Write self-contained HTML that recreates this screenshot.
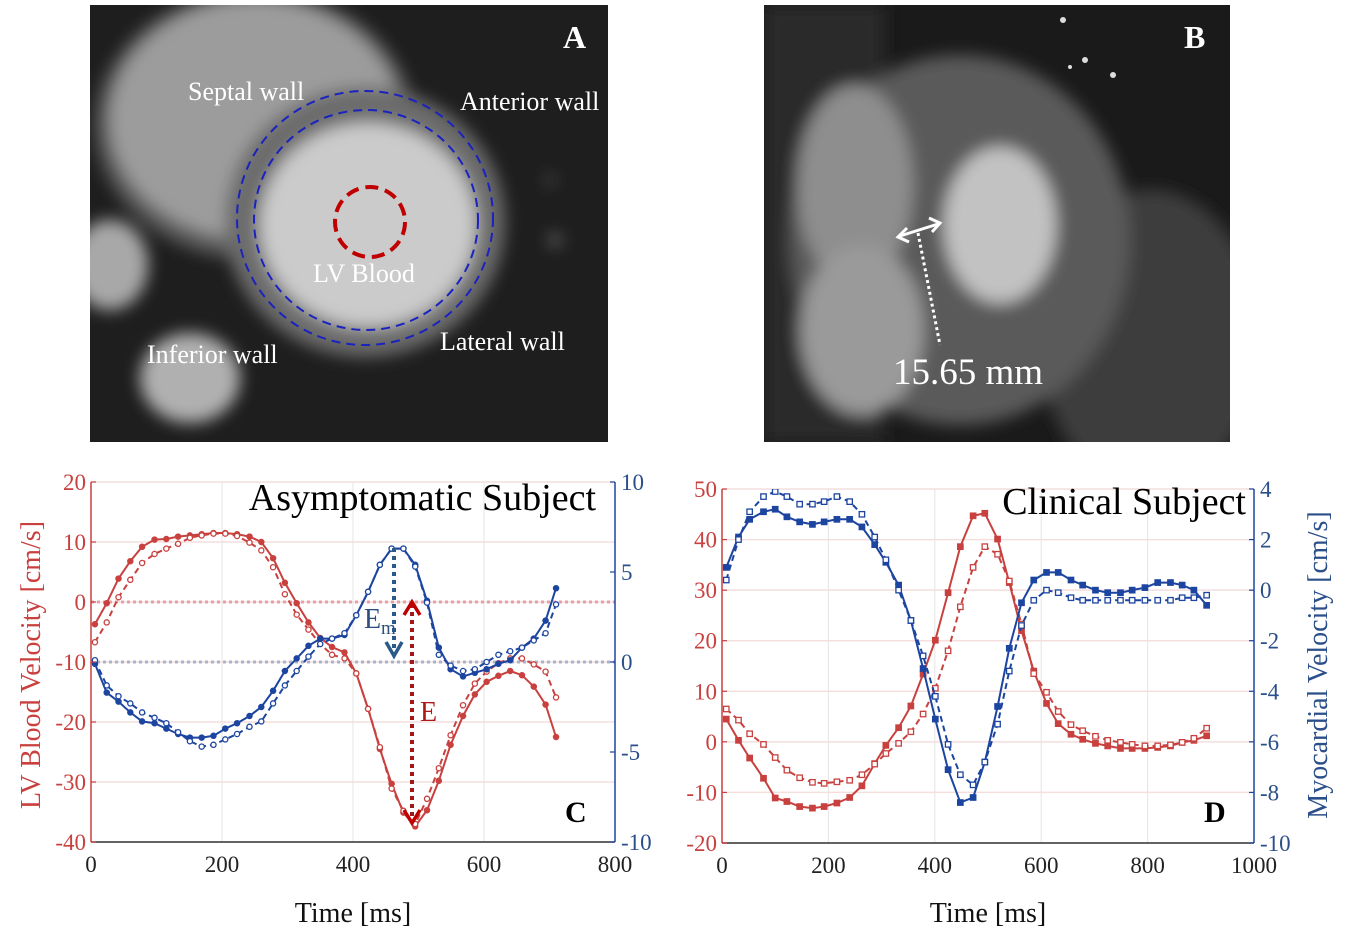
<!DOCTYPE html>
<html><head><meta charset="utf-8">
<style>
html,body{margin:0;padding:0;background:#fff;}
svg{display:block;font-family:"Liberation Serif",serif;}
</style></head>
<body>
<svg id="fig" width="1350" height="947" viewBox="0 0 1350 947">
<defs>
<filter id="blur8" x="-20%" y="-20%" width="140%" height="140%"><feGaussianBlur stdDeviation="8"/></filter>
<clipPath id="clipA"><rect x="90" y="5" width="518" height="437"/></clipPath>
<clipPath id="clipB"><rect x="764" y="5" width="466" height="437"/></clipPath>
<clipPath id="clipC"><rect x="91" y="482" width="524" height="360"/></clipPath>
<clipPath id="clipD"><rect x="722" y="489" width="532" height="354"/></clipPath>
</defs>

<!-- Panel A -->
<g clip-path="url(#clipA)">
<rect x="90" y="5" width="518" height="437" fill="#1e1e1e"/>
<g filter="url(#blur8)">
<ellipse cx="255" cy="125" rx="160" ry="135" fill="#5a5a5a"/>
<ellipse cx="255" cy="120" rx="145" ry="120" fill="#9c9c9c"/>
<ellipse cx="110" cy="265" rx="38" ry="45" fill="#a8a8a8"/>
<ellipse cx="190" cy="378" rx="50" ry="45" fill="#b0b0b0"/>
<ellipse cx="365" cy="222" rx="140" ry="135" fill="#6c6c6c"/>
<ellipse cx="368" cy="225" rx="108" ry="102" fill="#cbcbcb"/>
<circle cx="555" cy="240" r="6" fill="#777"/>
<circle cx="550" cy="180" r="5" fill="#555"/>
</g>
<ellipse cx="365" cy="218" rx="128" ry="127" fill="none" stroke="#1a22c0" stroke-width="2" stroke-dasharray="9,6"/>
<ellipse cx="366" cy="220" rx="112" ry="110" fill="none" stroke="#1a22c0" stroke-width="2" stroke-dasharray="9,6"/>
<circle cx="370" cy="222" r="35" fill="none" stroke="#c00000" stroke-width="4" stroke-dasharray="13,7"/>
<g fill="#fff" font-size="26">
<text x="188" y="100">Septal wall</text>
<text x="460" y="110">Anterior wall</text>
<text x="313" y="282">LV Blood</text>
<text x="440" y="350">Lateral wall</text>
<text x="147" y="363">Inferior wall</text>
<text x="563" y="48" font-size="32" font-weight="bold">A</text>
</g>
</g>

<!-- Panel B -->
<g clip-path="url(#clipB)">
<rect x="764" y="5" width="466" height="437" fill="#1a1a1a"/>
<g filter="url(#blur8)">
<rect x="764" y="5" width="120" height="437" fill="#2a2a2a"/>
<ellipse cx="1150" cy="340" rx="110" ry="150" fill="#3e3e3e"/>
<ellipse cx="960" cy="240" rx="170" ry="185" fill="#5a5a5a"/>
<ellipse cx="855" cy="185" rx="58" ry="100" fill="#8e8e8e"/>
<ellipse cx="862" cy="330" rx="62" ry="85" fill="#9a9a9a"/>
<ellipse cx="1000" cy="225" rx="56" ry="78" fill="#c2c2c2"/>
</g>
<g fill="#ddd"><circle cx="1063" cy="20" r="3"/><circle cx="1085" cy="60" r="3"/><circle cx="1113" cy="75" r="3"/><circle cx="1070" cy="67" r="2"/></g>
<line x1="900" y1="236" x2="938" y2="224" stroke="#fff" stroke-width="3"/>
<polyline points="907,228 898,237 909,242" fill="none" stroke="#fff" stroke-width="3"/>
<polyline points="929,218 940,223 932,232" fill="none" stroke="#fff" stroke-width="3"/>
<line x1="918" y1="233" x2="940" y2="345" stroke="#fff" stroke-width="3" stroke-dasharray="3,3"/>
<text x="893" y="384" fill="#fff" font-size="37">15.65 mm</text>
<text x="1184" y="48" fill="#fff" font-size="32" font-weight="bold">B</text>
</g>

<g id="chartC"></g>
<g id="chartD"></g>
</svg>

<script>
// ---- Chart C data ----
const cTimes = [6,24,42,60,78,97,115,133,151,169,187,205,223,242,260,278,296,314,332,350,368,387,405,423,441,459,477,495,513,531,549,568,586,604,622,640,658,676,694,710];
const cBloodSolid = [-3.7,-0.2,3.9,6.8,9.2,10.4,10.5,10.9,11.1,11.3,11.5,11.5,11.3,10.9,10,7.3,3.2,-0.2,-3.4,-6,-7.5,-8.4,-11.9,-17.8,-24.5,-30.3,-35.1,-37.4,-34.7,-29.8,-23.8,-19,-15.4,-13.3,-12.3,-11.5,-12.2,-14.1,-17.1,-22.5];
const cBloodDashed = [-6.7,-3.4,0.8,3.7,6.5,8,8.9,9.7,10.7,11.1,11.4,11.4,11,9.9,8.6,5.8,1.3,-2.1,-4.6,-7,-8.8,-9.4,-11.9,-17.8,-24.2,-31.1,-34.8,-37,-32.8,-27.7,-22.2,-17.2,-13.6,-11.6,-10.2,-9.4,-9.4,-10.4,-11.6,-15.9];
const cMyoSolid = [-0.1,-1.7,-2.2,-2.8,-3.3,-3.4,-3.7,-4,-4.2,-4.2,-4.1,-3.7,-3.4,-3,-2.5,-1.6,-0.5,0.2,0.9,1.3,1.3,1.5,2.6,3.9,5.4,6.3,6.3,5.4,3.4,0.8,-0.4,-0.8,-0.6,-0.4,-0.1,0.1,0.8,1.3,2.3,4.1];
const cMyoDashed = [0.1,-1.3,-1.9,-2.3,-2.8,-3.1,-3.4,-3.9,-4.4,-4.7,-4.6,-4.3,-4,-3.6,-3.3,-2.3,-1.3,-0.5,0.3,1,1.3,1.6,2.6,3.9,5.4,6.3,6.3,5.3,3.3,0.4,-0.2,-0.5,-0.4,0,0.4,0.6,0.8,1.2,1.6,3.2];
const cXTicks = [0,200,400,600,800];
const cLeftTicks = [-40,-30,-20,-10,0,10,20];
const cRightTicks = [-10,-5,0,5,10];

// ---- Chart D data ----
const dTimes = [8,31,52,78,100,122,146,170,192,216,240,263,287,308,332,355,378,401,425,448,472,494,518,540,563,586,610,632,656,678,702,725,749,771,795,819,843,865,887,911];
const dBloodSolid = [4.5,0.3,-3.2,-7.2,-11.1,-11.8,-12.8,-13.1,-12.8,-12.1,-11,-8.7,-4.3,-0.7,2.8,7.1,13.4,20.1,29.5,38.6,44.7,45.2,40.1,31.5,22,14,7.6,3.6,1.5,0.5,-0.3,-0.8,-1.3,-1.3,-1.3,-1.1,-0.8,-0.1,0.3,1.2];
const dBloodDashed = [6.5,4.3,1.6,-0.5,-3.1,-5.6,-7.1,-8,-8.2,-7.9,-7.6,-6.5,-4.4,-2.3,-0.3,2,5.5,10.6,18,26.7,34.5,38.6,37.1,31.8,23.3,13.5,9.8,6,3.4,2.2,1.1,0.3,-0.1,-0.5,-0.8,-0.8,-0.6,-0.1,0.7,2.7];
const dMyoSolid = [0.9,2.1,2.8,3.1,3.2,2.9,2.7,2.6,2.7,2.8,2.8,2.5,1.8,1.1,0.2,-1.2,-3.1,-5.1,-7.1,-8.4,-8.2,-6.8,-4.6,-2.3,-0.5,0.4,0.7,0.7,0.4,0.2,0,-0.1,-0.1,0,0.1,0.3,0.3,0.2,0,-0.6];
const dMyoDashed = [0.4,2,3.1,3.7,3.9,3.7,3.4,3.4,3.5,3.7,3.5,3,2.1,1.2,0,-1.2,-2.6,-4.2,-6.1,-7.3,-7.7,-6.8,-5.3,-3.2,-1.4,-0.4,0,-0.1,-0.3,-0.4,-0.4,-0.4,-0.4,-0.4,-0.4,-0.4,-0.4,-0.3,-0.3,-0.2];
const dXTicks = [0,200,400,600,800,1000];
const dLeftTicks = [-20,-10,0,10,20,30,40,50];
const dRightTicks = [-10,-8,-6,-4,-2,0,2,4];

const NS = 'http://www.w3.org/2000/svg';
const RED = '#c8413f', BLUE = '#1c45a0', NAVY = '#2b4f8a';
function mk(parent, tag, attrs) {
  const e = document.createElementNS(NS, tag);
  for (const k in attrs) e.setAttribute(k, attrs[k]);
  parent.appendChild(e);
  return e;
}

function drawChart(g, cfg) {
  const {x0,x1,y0,y1,xmax,lmin,lmax,rmin,rmax} = cfg;
  const sx = v => x0 + v / xmax * (x1 - x0);
  const sl = v => y1 - (v - lmin) / (lmax - lmin) * (y1 - y0);
  const sr = v => y1 - (v - rmin) / (rmax - rmin) * (y1 - y0);
  cfg.xTicks.forEach(t => {
    const l = mk(g, 'line', {x1:sx(t), x2:sx(t), y1:y0, y2:y1, stroke:'#e4e4e4', 'stroke-width':1});
    
    
  });
  cfg.lTicks.forEach(t => {
    const l = mk(g, 'line', {x1:x0, x2:x1, y1:sl(t), y2:sl(t), stroke:'#f4dede', 'stroke-width':1.5});
    
    
  });
  if (cfg.refLines) {
    const a = mk(g, 'line', {x1:x0, x2:x1, y1:sl(0), y2:sl(0), stroke:'#e8a0a8', 'stroke-width':3, 'stroke-dasharray':'3,3'});
    
    
    const b = mk(g, 'line', {x1:x0, x2:x1, y1:sr(0), y2:sr(0), stroke:'#a8b4cc', 'stroke-width':3, 'stroke-dasharray':'3,3'});
    
    
  }
  const series = [
    {vals:cfg.bS, sc:sl, col:RED, dash:null, fill:true, name:'blood-velocity-solid'},
    {vals:cfg.bD, sc:sl, col:RED, dash:'6,4', fill:false, name:'blood-velocity-dashed'},
    {vals:cfg.mS, sc:sr, col:BLUE, dash:null, fill:true, name:'myocardial-velocity-solid'},
    {vals:cfg.mD, sc:sr, col:BLUE, dash:'6,4', fill:false, name:'myocardial-velocity-dashed'}
  ];
  series.forEach(s => {
    const sg = mk(g, 'g', {'clip-path':cfg.clip});
    
    
    const pts = s.vals.map((v,i) => sx(cfg.times[i]).toFixed(1) + ',' + s.sc(v).toFixed(1)).join(' ');
    const pl = mk(sg, 'polyline', {points:pts, fill:'none', stroke:s.col, 'stroke-width':2});
    if (s.dash) pl.setAttribute('stroke-dasharray', s.dash);
    
    
    s.vals.forEach((v,i) => {
      const cx = sx(cfg.times[i]), cy = s.sc(v);
      let m;
      if (cfg.marker === 'circle') {
        m = mk(sg, 'circle', {cx:cx, cy:cy, r:2.6, fill:s.fill ? s.col : '#fff', stroke:s.col, 'stroke-width':1.3});
      } else {
        m = mk(sg, 'rect', {x:cx-2.7, y:cy-2.7, width:5.4, height:5.4, fill:s.fill ? s.col : '#fff', stroke:s.col, 'stroke-width':1.3});
      }
      
      
    });
  });
  const la = mk(g, 'line', {x1:x0, x2:x0, y1:y0, y2:y1, stroke:RED, 'stroke-width':1.5});
  
  
  const ra = mk(g, 'line', {x1:x1, x2:x1, y1:y0, y2:y1, stroke:BLUE, 'stroke-width':1.5});
  
  
  const ba = mk(g, 'line', {x1:x0, x2:x1, y1:y1, y2:y1, stroke:'#333', 'stroke-width':1.5});
  
  
  cfg.xTicks.forEach(t => {
    const tx = mk(g, 'text', {x:sx(t), y:y1+30, 'text-anchor':'middle', 'font-size':23, fill:'#222'});
    tx.textContent = t;
    
    
  });
  cfg.lTicks.forEach(t => {
    mk(g, 'line', {x1:x0, x2:x0+5, y1:sl(t), y2:sl(t), stroke:RED, 'stroke-width':1.2});
    const tx = mk(g, 'text', {x:x0-5, y:sl(t)+8, 'text-anchor':'end', 'font-size':23, fill:RED});
    tx.textContent = t;
    
    
  });
  cfg.rTicks.forEach(t => {
    mk(g, 'line', {x1:x1-5, x2:x1, y1:sr(t), y2:sr(t), stroke:BLUE, 'stroke-width':1.2});
    const tx = mk(g, 'text', {x:x1+6, y:sr(t)+8, 'text-anchor':'start', 'font-size':23, fill:NAVY});
    tx.textContent = t;
    
    
  });
  const xt = mk(g, 'text', {x:(x0+x1)/2, y:922, 'text-anchor':'middle', 'font-size':28, fill:'#111'});
  xt.textContent = 'Time [ms]';
  
  
  const tt = mk(g, 'text', {x:cfg.titleX, y:cfg.titleY, 'text-anchor':'end', 'font-size':38, fill:'#000'});
  tt.textContent = cfg.title;
  
  
  const lt = mk(g, 'text', {x:cfg.letterX, y:822, 'font-size':30, 'font-weight':'bold', fill:'#000'});
  lt.textContent = cfg.letter;
  
  
  return {sx, sl, sr};
}

const gC = document.getElementById('chartC');
drawChart(gC, {x0:91,x1:615,y0:482,y1:842,xmax:800,lmin:-40,lmax:20,rmin:-10,rmax:10,
  times:cTimes,bS:cBloodSolid,bD:cBloodDashed,mS:cMyoSolid,mD:cMyoDashed,
  xTicks:cXTicks,lTicks:cLeftTicks,rTicks:cRightTicks,marker:'circle',refLines:true,clip:'url(#clipC)',
  title:'Asymptomatic Subject',titleX:596,titleY:510,letter:'C',letterX:565});

(function(){
  const ax = mk(gC, 'g', {});
  
  
  mk(ax, 'line', {x1:394, x2:394, y1:548, y2:655, stroke:'#2a5a8a', 'stroke-width':4, 'stroke-dasharray':'4,4'});
  mk(ax, 'polyline', {points:'386,642 394,656 402,642', fill:'none', stroke:'#2a5a8a', 'stroke-width':3.5});
  const em = mk(gC, 'text', {x:364, y:628, 'font-size':28, fill:'#2b4f7c'});
  em.textContent = 'E';
  
  
  const ems = mk(gC, 'text', {x:381, y:634, 'font-size':19, fill:'#2b4f7c'});
  ems.textContent = 'm';
  
  
  const ex = mk(gC, 'g', {});
  
  
  mk(ex, 'line', {x1:412, x2:412, y1:604, y2:822, stroke:'#a01818', 'stroke-width':4, 'stroke-dasharray':'4,4'});
  mk(ex, 'polyline', {points:'404,615 412,602 420,615', fill:'none', stroke:'#c00000', 'stroke-width':3.5});
  mk(ex, 'polyline', {points:'404,810 412,823 420,810', fill:'none', stroke:'#c00000', 'stroke-width':3.5});
  const e = mk(gC, 'text', {x:420, y:721, 'font-size':28, fill:'#b01818'});
  e.textContent = 'E';
  
  
})();

const yl = mk(gC, 'text', {x:0, y:0, transform:'translate(40,665) rotate(-90)', 'text-anchor':'middle', 'font-size':28, fill:RED});
yl.textContent = 'LV Blood Velocity [cm/s]';



const gD = document.getElementById('chartD');
drawChart(gD, {x0:722,x1:1254,y0:489,y1:843,xmax:1000,lmin:-20,lmax:50,rmin:-10,rmax:4,
  times:dTimes,bS:dBloodSolid,bD:dBloodDashed,mS:dMyoSolid,mD:dMyoDashed,
  xTicks:dXTicks,lTicks:dLeftTicks,rTicks:dRightTicks,marker:'square',refLines:false,clip:'url(#clipD)',
  title:'Clinical Subject',titleX:1246,titleY:514,letter:'D',letterX:1204});

const yr = mk(gD, 'text', {x:0, y:0, transform:'translate(1327,665) rotate(-90)', 'text-anchor':'middle', 'font-size':28, fill:NAVY});
yr.textContent = 'Myocardial Velocity [cm/s]';


</script>
</body></html>
